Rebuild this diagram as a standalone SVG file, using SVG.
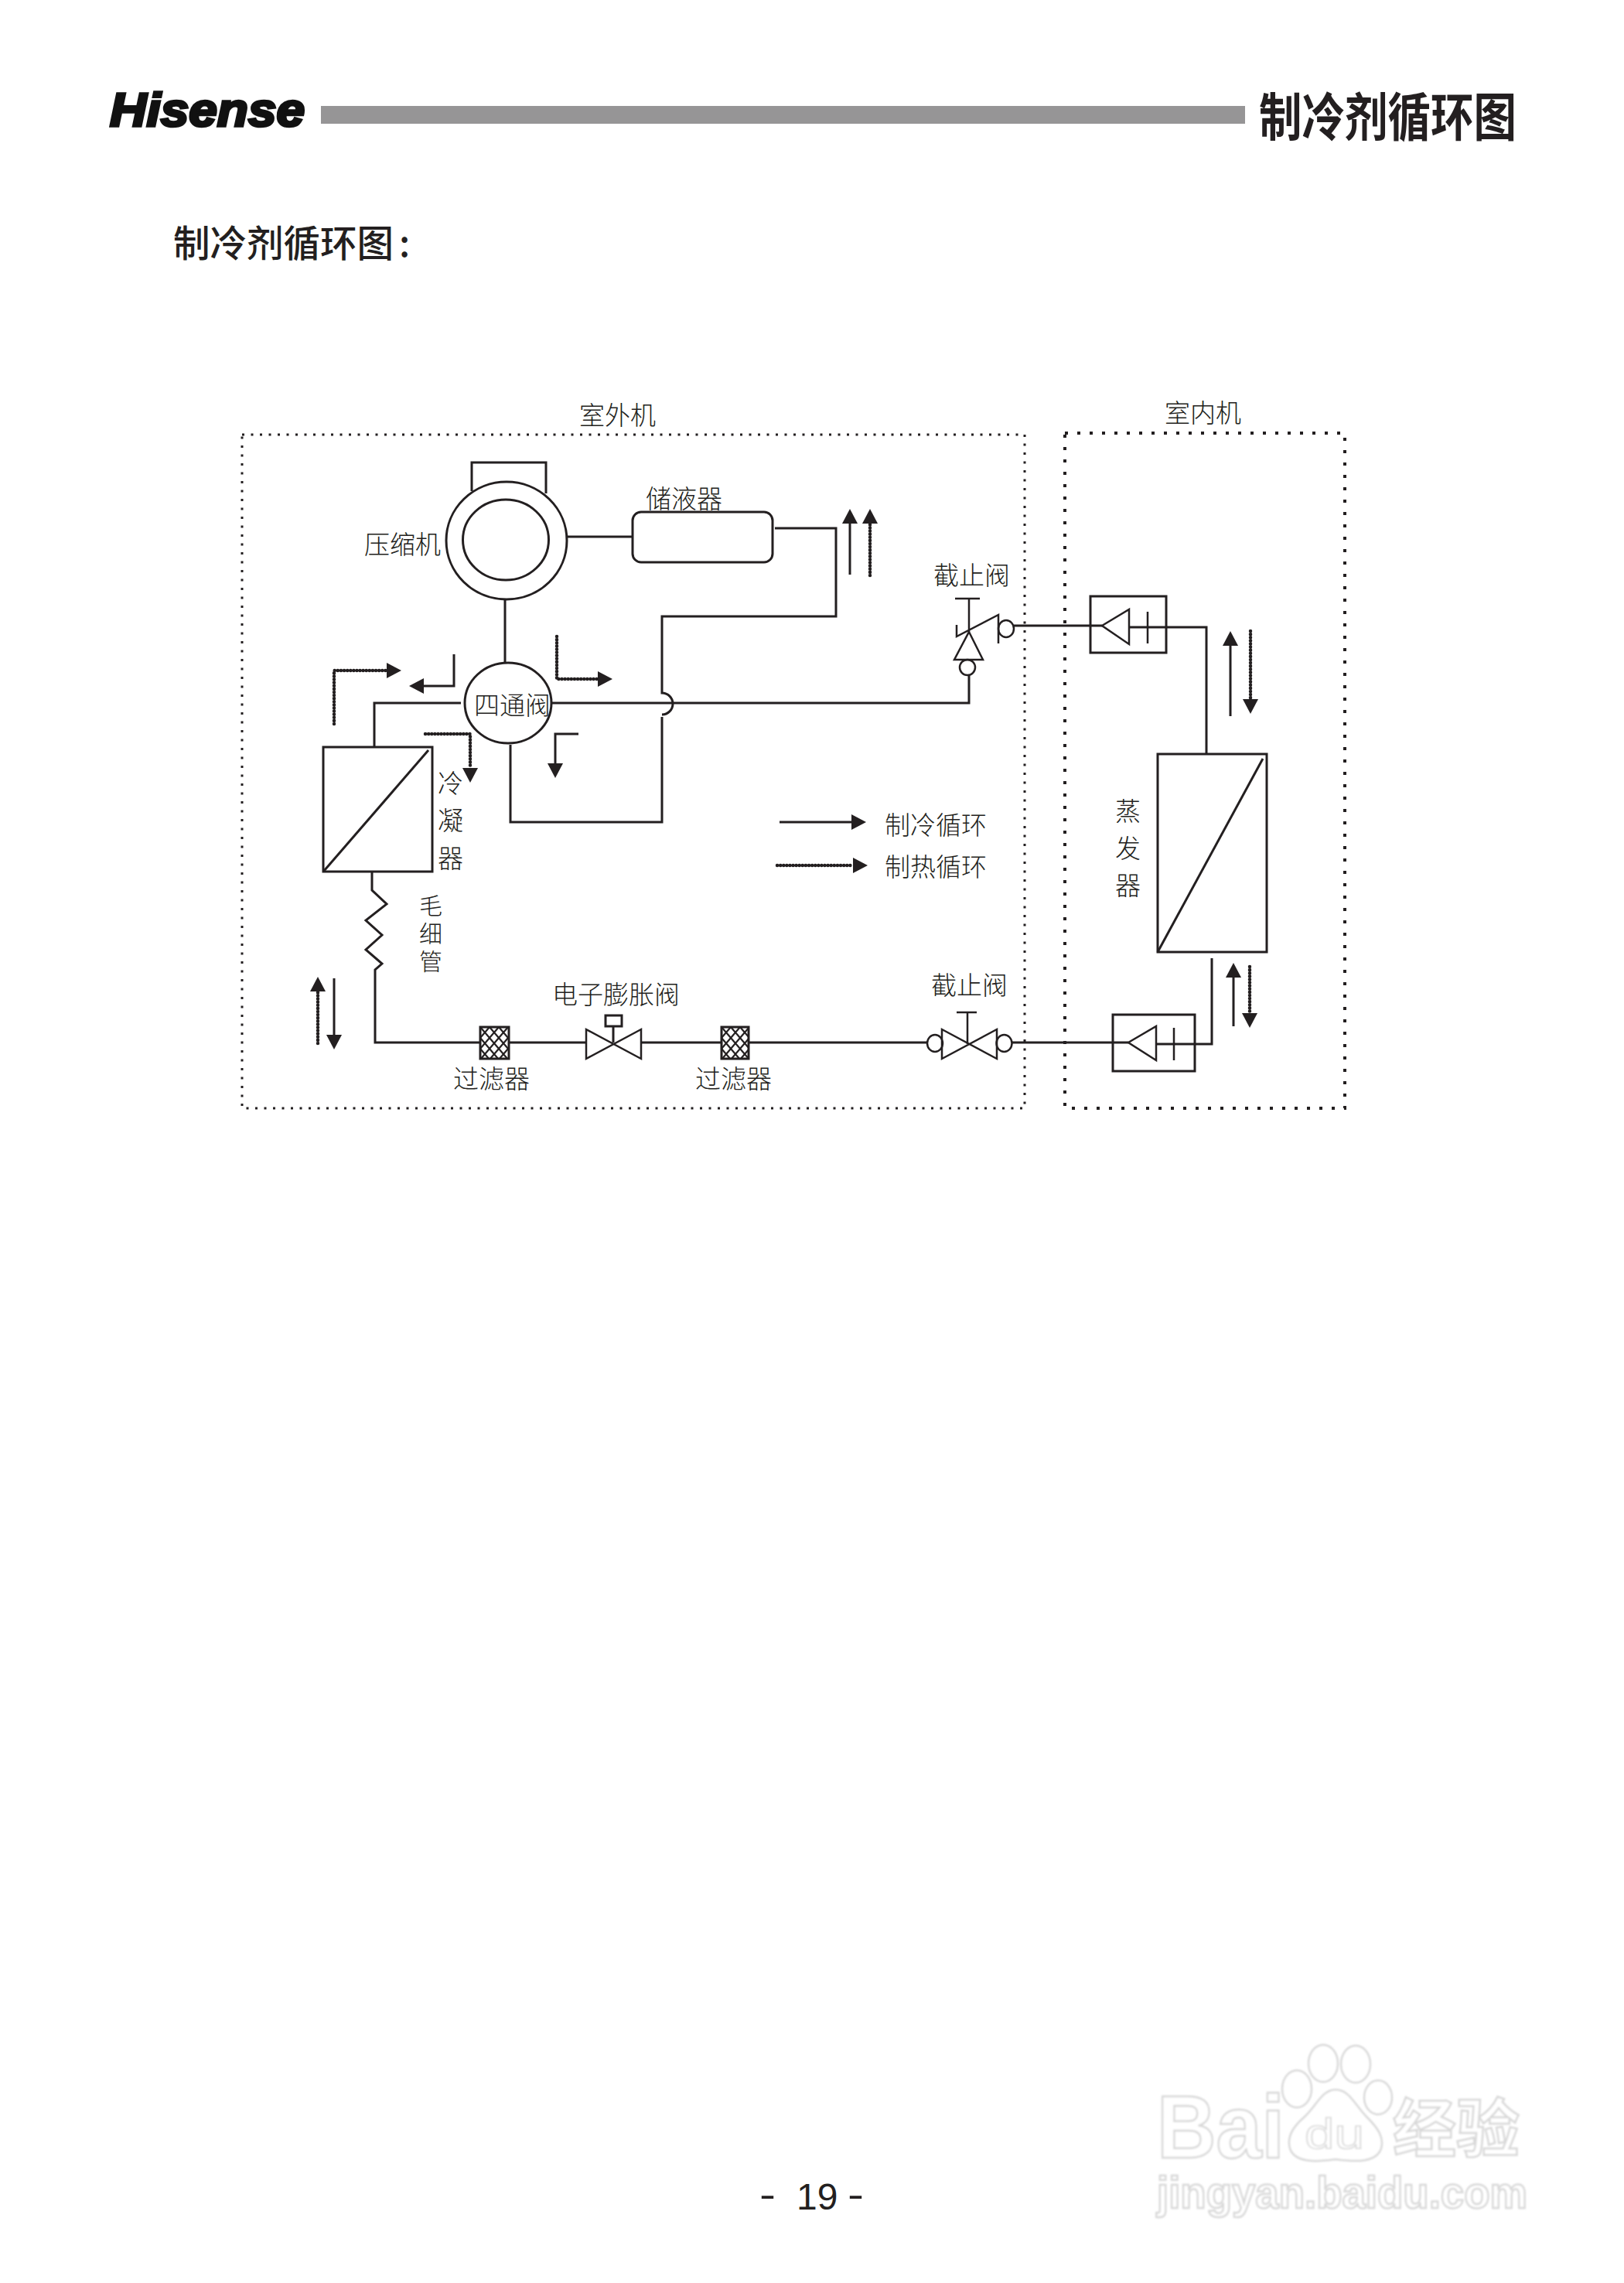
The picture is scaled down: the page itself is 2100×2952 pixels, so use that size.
<svg xmlns="http://www.w3.org/2000/svg" width="2100" height="2952" viewBox="0 0 2100 2952">
<style>
.l{fill:none;stroke:#231f20;stroke-width:3}
.t{fill:none;stroke:#231f20;stroke-width:2.5}
.w{fill:#fff;stroke:#231f20;stroke-width:3}
.f{fill:none;stroke:#231f20;stroke-width:3;marker-end:url(#ah)}
.d{fill:none;stroke:#231f20;stroke-width:4.500;stroke-linecap:round;stroke-dasharray:.1 4;marker-end:url(#ah)}
text{fill:#231f20}
.c{font-family:"Noto Sans CJK SC",sans-serif;font-weight:300;font-size:33px}
.wm{fill:#fff;stroke:#d8d8d8;stroke-width:2.500}
</style>
<defs>
<marker id="ah" markerUnits="userSpaceOnUse" markerWidth="19" markerHeight="20" viewBox="0 0 19 20" refX="0" refY="10" orient="auto"><path d="M0 0L19 10L0 20Z" style="fill:#231f20;stroke:none"/></marker>
<pattern id="mesh" patternUnits="userSpaceOnUse" width="12" height="14" x="621" y="1328"><path d="M0 0L12 14M12 0L0 14" stroke="#231f20" stroke-width="2.2" fill="none"/></pattern>
<filter id="soft"><feGaussianBlur stdDeviation="1"/></filter>
</defs>
<g id="header">
<text x="142" y="163" textLength="252" lengthAdjust="spacingAndGlyphs" style="font-family:'Liberation Sans',sans-serif;font-weight:700;font-style:italic;font-size:62px;fill:#111;stroke:#111;stroke-width:3.500">Hisense</text>
<rect x="415" y="137" width="1195" height="23" fill="#969596"/>
<text x="1628" y="176" textLength="333" lengthAdjust="spacingAndGlyphs" style="font-family:'Noto Sans CJK SC',sans-serif;font-weight:700;font-size:67px">制冷剂循环图</text>
<text x="224" y="332" style="font-family:'Noto Sans CJK SC',sans-serif;font-weight:500;font-size:47.500px">制冷剂循环图<tspan x="516">:</tspan></text>
</g>
<g id="unit-outdoor"><rect x="313" y="562" width="1012" height="871" fill="none" stroke="#231f20" stroke-width="3" stroke-dasharray="3 8.5"/><text class="c" x="749" y="549">室外机</text></g>
<g id="unit-indoor"><rect x="1377" y="560" width="362" height="873" fill="none" stroke="#231f20" stroke-width="4" stroke-dasharray="4 12"/><text class="c" x="1506" y="546">室内机</text></g>
<g id="connectors">
<path class="l" d="M733 694H818"/>
<path class="l" d="M653 775V857"/>
<path class="l" d="M1002 683H1081V797H856V896A14 14 0 0 1 856 924M856 927V1063H660V963"/>
<path class="l" d="M596 909H484V966"/>
<path class="l" d="M714 909H1253V873"/>
<path class="l" d="M1311 809H1425"/>
<path class="l" d="M1460 811H1560V975"/>
<path class="l" d="M481 1127V1151L500 1169L473 1190L494 1209L473 1228L494 1246L485 1254V1348H621"/>
<path class="l" d="M658 1348H758M829 1348H933M968 1348H1199"/>
<path class="l" d="M1308 1348H1459"/>
<path class="l" d="M1567 1239V1350H1495"/>
</g>
<g id="flow-arrows">
<path class="f" d="M1099 743V677"/>
<path class="d" d="M1125 744V677"/>
<path class="d" d="M432 936V867H500"/>
<path class="f" d="M587 846V887H548"/>
<path class="d" d="M720 823V878H773"/>
<path class="d" d="M550 949H608V993"/>
<path class="f" d="M748 949H718V987"/>
<path class="f" d="M1591 926V835"/>
<path class="d" d="M1617 816V904"/>
<path class="f" d="M1595 1327V1264"/>
<path class="d" d="M1616 1250V1310"/>
<path class="d" d="M411 1349V1282"/>
<path class="f" d="M432 1265V1338"/>
</g>
<g id="compressor">
<path class="l" d="M610 635V598H706V638"/>
<ellipse class="l" cx="655" cy="699" rx="78" ry="76"/>
<ellipse class="l" cx="654" cy="698" rx="55.500" ry="52"/>
<text class="c" x="471" y="716">压缩机</text>
</g>
<g id="receiver"><rect class="l" x="818" y="662" width="181" height="65" rx="11"/><text class="c" x="835" y="657">储液器</text></g>
<g id="four-way-valve"><ellipse class="w" cx="657" cy="909" rx="56" ry="52"/><text class="c" x="613" y="924">四通阀</text></g>
<g id="condenser">
<rect class="l" x="418" y="966" width="141" height="161"/><path class="l" d="M419 1126L554 970"/>
<text class="c"><tspan x="566" y="1025">冷</tspan><tspan x="566" y="1073">凝</tspan><tspan x="566" y="1122">器</tspan></text>
</g>
<g id="capillary"><text class="c" x="557" y="1156" style="font-size:30px;writing-mode:vertical-rl;letter-spacing:6px">毛细管</text></g>
<g id="filter-1"><rect x="621" y="1328" width="37" height="41" fill="url(#mesh)" stroke="#231f20" stroke-width="3"/><text class="c" x="586" y="1407">过滤器</text></g>
<g id="expansion-valve">
<path class="t" d="M758 1331L829 1369V1331L758 1369Z"/><path class="l" d="M793 1327V1348"/><rect class="l" x="783" y="1313" width="21" height="14"/>
<text class="c" x="714" y="1298">电子膨胀阀</text>
</g>
<g id="filter-2"><rect x="933" y="1328" width="35" height="41" fill="url(#mesh)" stroke="#231f20" stroke-width="3"/><text class="c" x="899" y="1407">过滤器</text></g>
<g id="stop-valve-top">
<path class="t" d="M1235 774H1267M1253 774V817M1237 808V823L1291 795V832"/>
<path class="t" d="M1253 817L1271 853H1234Z"/>
<ellipse class="t" cx="1251" cy="863" rx="10" ry="10"/>
<ellipse class="t" cx="1301" cy="813" rx="10" ry="11"/>
<text class="c" x="1207" y="756">截止阀</text>
</g>
<g id="stop-valve-bottom">
<path class="t" d="M1218 1331L1289 1369V1331L1218 1369Z"/><path class="t" d="M1237 1309H1263M1251 1309V1350"/>
<ellipse class="t" cx="1209" cy="1349" rx="10" ry="11"/><ellipse class="t" cx="1298.500" cy="1349" rx="10" ry="11"/>
<text class="c" x="1204" y="1286">截止阀</text>
</g>
<g id="indoor-connector-top">
<rect class="l" x="1410" y="771" width="98" height="73"/><path class="t" d="M1425 809L1460 788V833ZM1484 791V832"/>
</g>
<g id="evaporator">
<rect class="l" x="1497" y="975" width="141" height="256"/><path class="l" d="M1497 1231L1633 981"/>
<text class="c"><tspan x="1442" y="1061">蒸</tspan><tspan x="1442" y="1109">发</tspan><tspan x="1442" y="1157">器</tspan></text>
</g>
<g id="indoor-connector-bottom">
<rect class="l" x="1439" y="1312" width="106" height="73"/><path class="t" d="M1459 1348L1495 1327V1371ZM1518 1329V1371"/>
</g>
<g id="legend">
<path class="f" d="M1008 1063H1101"/><text class="c" x="1144" y="1079">制冷循环</text>
<path class="d" d="M1005 1119H1103"/><text class="c" x="1144" y="1133">制热循环</text>
</g>
<g id="page-number" style="font-family:'Liberation Sans',sans-serif;font-size:48px">
<text x="1030" y="2857">19</text>
<text x="982" y="2854" textLength="21" lengthAdjust="spacingAndGlyphs">-</text>
<text x="1096" y="2854" textLength="21" lengthAdjust="spacingAndGlyphs">-</text>
</g>
<g id="watermark" filter="url(#soft)">
<text class="wm" x="1496" y="2790" textLength="165" lengthAdjust="spacingAndGlyphs" style="font-family:'Liberation Sans',sans-serif;font-weight:700;font-size:115px">Bai</text>
<ellipse class="wm" cx="1677" cy="2701" rx="19" ry="24"/>
<ellipse class="wm" cx="1711" cy="2668" rx="19" ry="24"/>
<ellipse class="wm" cx="1753" cy="2669" rx="19" ry="24"/>
<ellipse class="wm" cx="1782" cy="2712" rx="18" ry="22"/>
<path class="wm" d="M1727 2702C1745 2702 1752 2722 1768 2738C1782 2752 1790 2764 1786 2778C1780 2796 1755 2796 1727 2792C1700 2796 1674 2796 1668 2778C1664 2764 1672 2750 1686 2738C1702 2724 1709 2702 1727 2702Z"/>
<text class="wm" x="1687" y="2778" textLength="77" lengthAdjust="spacingAndGlyphs" style="font-family:'Liberation Sans',sans-serif;font-size:56px;stroke-width:1.5">du</text>
<text class="wm" x="1801" y="2782" textLength="164" lengthAdjust="spacingAndGlyphs" style="font-family:'Noto Sans CJK SC',sans-serif;font-weight:700;font-size:82px">经验</text>
<text class="wm" x="1496" y="2855" textLength="479" lengthAdjust="spacingAndGlyphs" style="font-family:'Liberation Sans',sans-serif;font-weight:700;font-size:58px">jingyan.baidu.com</text>
</g>
</svg>
